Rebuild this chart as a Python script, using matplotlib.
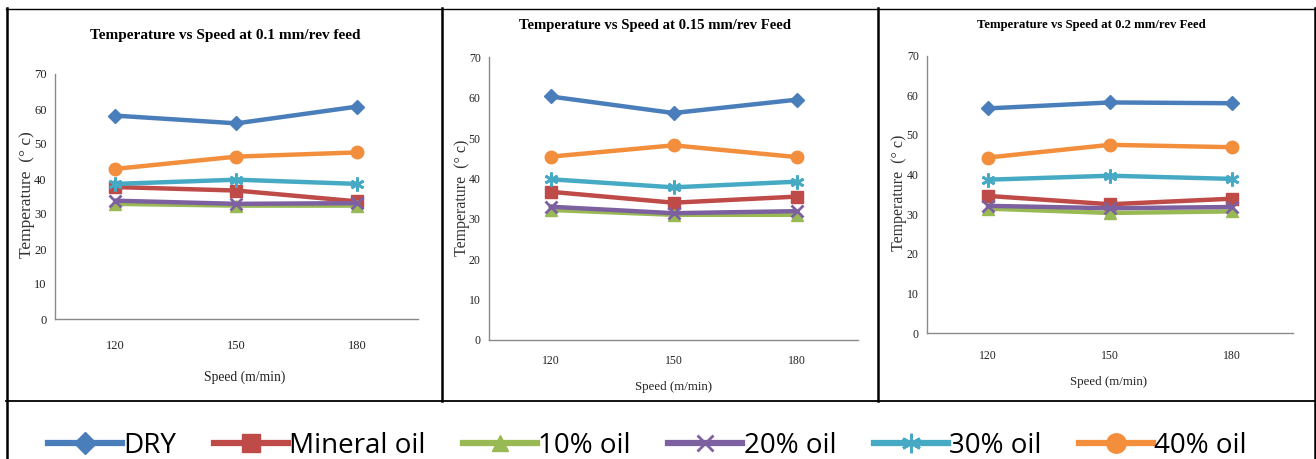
import matplotlib
matplotlib.use("Agg")
import matplotlib.pyplot as plt
from matplotlib.lines import Line2D

W, H = 1316, 459

speeds = ["120", "150", "180"]
series_names = ["DRY", "Mineral oil", "10% oil", "20% oil", "30% oil", "40% oil"]

feed_01 = {
    "DRY": [58.1, 55.9, 60.7],
    "Mineral oil": [37.7, 36.7, 33.6],
    "10% oil": [32.9, 32.4, 32.4],
    "20% oil": [33.8, 32.9, 33.1],
    "30% oil": [38.6, 39.8, 38.6],
    "40% oil": [42.9, 46.4, 47.6],
}
feed_015 = {
    "DRY": [60.3, 56.2, 59.5],
    "Mineral oil": [36.7, 34.0, 35.5],
    "10% oil": [32.2, 31.0, 31.0],
    "20% oil": [33.0, 31.4, 31.9],
    "30% oil": [39.8, 37.8, 39.2],
    "40% oil": [45.4, 48.2, 45.3],
}
feed_02 = {
    "DRY": [56.7, 58.2, 58.0],
    "Mineral oil": [34.6, 32.5, 33.9],
    "10% oil": [31.4, 30.3, 30.7],
    "20% oil": [32.1, 31.5, 31.8],
    "30% oil": [38.7, 39.7, 38.9],
    "40% oil": [44.3, 47.5, 46.9],
}
titles = ["Temperature vs Speed at 0.1 mm/rev feed",
          "Temperature vs Speed at 0.15 mm/rev Feed",
          "Temperature vs Speed at 0.2 mm/rev Feed"]
xlabel = "Speed (m/min)"
ylabel = "Temperature  (° c)"

colors = {"DRY": "#4A7EBB", "Mineral oil": "#BE4B48", "10% oil": "#98B954",
          "20% oil": "#7D60A0", "30% oil": "#46AAC5", "40% oil": "#F28E3C"}
markers = {"DRY": "D", "Mineral oil": "s", "10% oil": "^", "20% oil": "x",
           "30% oil": (6, 2, 0), "40% oil": "o"}
msizes = {"DRY": 7, "Mineral oil": 8, "10% oil": 8, "20% oil": 8,
          "30% oil": 10, "40% oil": 9}

fig = plt.figure(figsize=(W / 100, H / 100), dpi=100)

def px_axes(x0, x1, ytop, ybot):
    return [x0 / W, 1 - ybot / H, (x1 - x0) / W, (ybot - ytop) / H]

panels = [
    dict(data=feed_01, box=(55, 418, 74, 319), title_xy=(0.47, 1.159), tsize=11,
         ylab_xy=(-0.077, 0.506), xlab_xy=(0.523, -0.237), tick_fs=9, xpad=15, ypad=6,
         ylab_fs=12.5, xlab_fs=9.8),
    dict(data=feed_015, box=(489, 858, 57.3, 340), title_xy=(0.451, 1.111), tsize=10.6,
         ylab_xy=(-0.073, 0.502), xlab_xy=(0.499, -0.166), tick_fs=8.5, xpad=11, ypad=6,
         ylab_fs=11.5, xlab_fs=9.3),
    dict(data=feed_02, box=(927, 1293, 55.7, 333), title_xy=(0.449, 1.111), tsize=9.2,
         ylab_xy=(-0.0765, 0.505), xlab_xy=(0.497, -0.177), tick_fs=8.5, xpad=12, ypad=6,
         ylab_fs=11.5, xlab_fs=9.3),
]

serif = "Liberation Serif"
xpos = [0.5, 1.5, 2.5]
for p, title in zip(panels, titles):
    ax = fig.add_axes(px_axes(*p["box"]))
    for name in series_names:
        mk = markers[name]
        ax.plot(xpos, p["data"][name], color=colors[name], lw=3.2, marker=mk,
                ms=msizes[name], mew=2 if name in ("20% oil", "30% oil") else 1,
                mec=colors[name], mfc=colors[name], solid_capstyle="round")
    ax.set_xlim(0, 3)
    ax.set_ylim(0, 70)
    ax.set_yticks(range(0, 71, 10))
    ax.set_xticks(xpos)
    ax.set_xticklabels(speeds)
    for s in ("top", "right"):
        ax.spines[s].set_visible(False)
    for s in ("left", "bottom"):
        ax.spines[s].set_color("#8A8A8A")
        ax.spines[s].set_linewidth(1.0)
    ax.tick_params(axis="both", length=0, labelsize=p["tick_fs"], labelcolor="#222222")
    ax.tick_params(axis="x", pad=p["xpad"])
    ax.tick_params(axis="y", pad=p["ypad"])
    for lab in ax.get_xticklabels() + ax.get_yticklabels():
        lab.set_family(serif)
    ax.text(*p["title_xy"], title, transform=ax.transAxes, ha="center", va="center",
            family=serif, fontweight="bold", fontsize=p["tsize"])
    ax.text(*p["ylab_xy"], ylabel, transform=ax.transAxes, ha="center", va="center",
            rotation=90, family=serif, fontsize=p["ylab_fs"], color="#333333")
    ax.text(*p["xlab_xy"], xlabel, transform=ax.transAxes, ha="center", va="center",
            family=serif, fontsize=p["xlab_fs"], color="#222222")

# table borders
def hline(y, x0, x1, lw=1.5):
    fig.add_artist(Line2D([x0 / W, x1 / W], [1 - y / H, 1 - y / H], color="black", lw=lw))

def vline(x, y0, y1, lw=1.8):
    fig.add_artist(Line2D([x / W, x / W], [1 - y0 / H, 1 - y1 / H], color="black", lw=lw))

hline(8.5, 6, 1315, lw=1.0)
hline(401, 6, 1315, lw=1.3)
vline(6.5, 8, 459)
vline(1314.5, 8, 459)
vline(442, 8, 401)
vline(878, 8, 401)

leg_ms = {"DRY": 11, "Mineral oil": 13, "10% oil": 12, "20% oil": 12,
          "30% oil": 14, "40% oil": 14}
handles = [Line2D([0], [0], color=colors[n], lw=4.5, marker=markers[n], ms=leg_ms[n],
                  mew=2 if n in ("20% oil", "30% oil") else 1, mec=colors[n], mfc=colors[n])
           for n in series_names]
fig.legend(handles, series_names, loc="center", bbox_to_anchor=(0.492, 1 - 446 / H),
           ncol=6, frameon=False, handlelength=2.66, handletextpad=0.05, columnspacing=1.35,
           borderaxespad=0, borderpad=0,
           prop={"family": ["Open Sans", "DejaVu Sans"], "size": 20})

fig.savefig("out.png", dpi=100)
